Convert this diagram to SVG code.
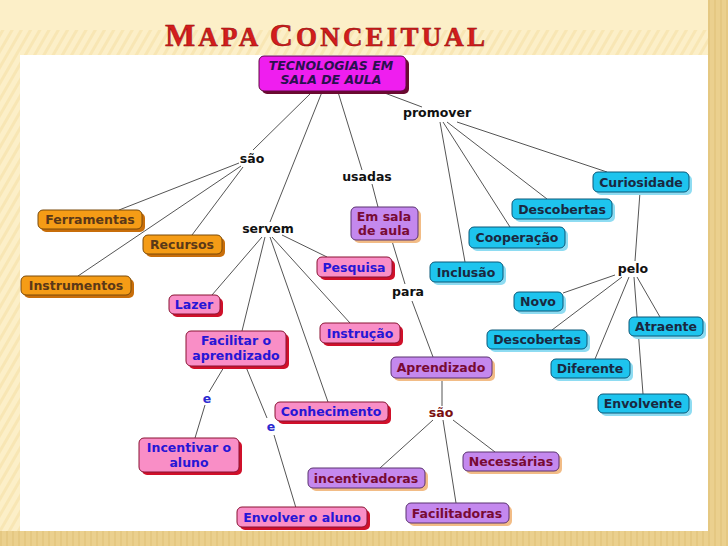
<svg xmlns="http://www.w3.org/2000/svg" width="728" height="546" viewBox="0 0 728 546">
<defs>
<pattern id="stripes" width="8" height="8" patternUnits="userSpaceOnUse" patternTransform="rotate(30)">
<rect width="8" height="8" fill="#fcefc8"/>
<rect width="3" height="8" fill="#f8e6b4"/>
</pattern>
<pattern id="stripes2" width="6" height="6" patternUnits="userSpaceOnUse">
<rect width="6" height="6" fill="#ebd08e"/>
<rect width="2" height="6" fill="#e5c882"/>
</pattern>
</defs>
<style>
.ln{stroke:#555;stroke-width:1;fill:none}
.t{font-family:"DejaVu Sans",Verdana,sans-serif;font-weight:bold;font-size:12.5px;text-anchor:middle}
.lbl{fill:#111}
.sh{stroke:none}
.o .bx{fill:#f59c16;stroke:#7a4a0a;stroke-width:1}
.o .sh{fill:#c86e0a}
.o text{fill:#5a3818}
.p .bx{fill:#f98ec6;stroke:#8a1232;stroke-width:1}
.p .sh{fill:#d0102a}
.p text{fill:#2616d6}
.v .bx{fill:#c488ee;stroke:#5a3270;stroke-width:1}
.v .sh{fill:#f2bc86}
.v text{fill:#780a34}
.b .bx{fill:#1ec4ee;stroke:#0a5878;stroke-width:1}
.b .sh{fill:#8edcf2}
.b text{fill:#1a2840}
.m .bx{fill:#ef1eef;stroke:#600a40;stroke-width:1}
.m .sh{fill:#6a0a30}
.m text{fill:#2a1050;font-style:italic;font-size:12.5px}
</style>
<rect width="728" height="546" fill="#fcefc8"/>
<rect x="0" y="30" width="728" height="25" fill="url(#stripes)"/>
<rect x="0" y="30" width="20" height="516" fill="url(#stripes)"/>
<rect x="708" y="0" width="20" height="546" fill="url(#stripes2)"/>
<rect x="0" y="531" width="728" height="15" fill="url(#stripes2)"/>
<rect x="20" y="55" width="688" height="476" fill="#ffffff"/>
<text x="165" y="46" textLength="320" lengthAdjust="spacing" font-family="'Liberation Serif',serif" font-weight="bold" fill="#d41c1c" stroke="#8a0a0a" stroke-width="0.5"><tspan font-size="32">M</tspan><tspan font-size="27">APA </tspan><tspan font-size="32">C</tspan><tspan font-size="27">ONCEITUAL</tspan></text>
<g id="connectors">
<path class="ln" d="M312,92 L253,150"/>
<path class="ln" d="M322,92 L270,222"/>
<path class="ln" d="M338,92 L362,170"/>
<path class="ln" d="M382,92 L422,107"/>
<path class="ln" d="M239,163 L119,210"/>
<path class="ln" d="M241,166 L78,276"/>
<path class="ln" d="M243,167 L192,235"/>
<path class="ln" d="M262,237 L212,295"/>
<path class="ln" d="M265,237 L242,331"/>
<path class="ln" d="M270,237 L328,402"/>
<path class="ln" d="M272,237 L350,323"/>
<path class="ln" d="M282,235 L327,257"/>
<path class="ln" d="M372,184 L378,207"/>
<path class="ln" d="M392,241 L405,284"/>
<path class="ln" d="M412,301 L433,357"/>
<path class="ln" d="M457,122 L607,172"/>
<path class="ln" d="M447,122 L547,199"/>
<path class="ln" d="M443,122 L510,227"/>
<path class="ln" d="M440,122 L465,262"/>
<path class="ln" d="M640,192 L635,261"/>
<path class="ln" d="M615,275 L563,293"/>
<path class="ln" d="M622,277 L552,330"/>
<path class="ln" d="M629,277 L595,359"/>
<path class="ln" d="M634,277 L643,394"/>
<path class="ln" d="M637,277 L660,317"/>
<path class="ln" d="M224,367 L209,392"/>
<path class="ln" d="M205,405 L195,438"/>
<path class="ln" d="M246,367 L267,418"/>
<path class="ln" d="M274,435 L296,508"/>
<path class="ln" d="M442,378 L442,406"/>
<path class="ln" d="M433,420 L380,468"/>
<path class="ln" d="M443,420 L456,503"/>
<path class="ln" d="M453,420 L495,452"/>
</g>
<g id="labels">
<text class="t lbl" x="252" y="163">são</text>
<text class="t lbl" x="268" y="233">servem</text>
<text class="t lbl" x="367" y="181">usadas</text>
<text class="t lbl" x="437" y="117">promover</text>
<text class="t lbl" x="408" y="296">para</text>
<text class="t lbl" x="633" y="273">pelo</text>
<text class="t" x="441" y="417" fill="#7a1010">são</text>
<text class="t" x="207" y="403" fill="#2a2ad0">e</text>
<text class="t" x="271" y="431" fill="#2a2ad0">e</text>
</g>
<g id="n-top" class="m"><rect class="sh" x="262" y="59" width="147" height="35" rx="5"/><rect class="bx" x="259" y="56" width="147" height="35" rx="5"/><text class="t" x="331" y="70">TECNOLOGIAS EM</text><text class="t" x="331" y="84">SALA DE AULA</text></g>
<g id="n-ferramentas" class="o"><rect class="sh" x="41" y="213" width="104" height="19" rx="5"/><rect class="bx" x="38" y="210" width="104" height="19" rx="5"/><text class="t" x="90" y="224">Ferramentas</text></g>
<g id="n-recursos" class="o"><rect class="sh" x="146" y="238" width="79" height="19" rx="5"/><rect class="bx" x="143" y="235" width="79" height="19" rx="5"/><text class="t" x="182" y="249">Recursos</text></g>
<g id="n-instrumentos" class="o"><rect class="sh" x="24" y="279" width="110" height="19" rx="5"/><rect class="bx" x="21" y="276" width="110" height="19" rx="5"/><text class="t" x="76" y="290">Instrumentos</text></g>
<g id="n-lazer" class="p"><rect class="sh" x="172" y="298" width="51" height="19" rx="5"/><rect class="bx" x="169" y="295" width="51" height="19" rx="5"/><text class="t" x="194" y="309">Lazer</text></g>
<g id="n-facilitar" class="p"><rect class="sh" x="189" y="334" width="100" height="35" rx="5"/><rect class="bx" x="186" y="331" width="100" height="35" rx="5"/><text class="t" x="236" y="345">Facilitar o</text><text class="t" x="236" y="360">aprendizado</text></g>
<g id="n-pesquisa" class="p"><rect class="sh" x="320" y="260" width="75" height="20" rx="5"/><rect class="bx" x="317" y="257" width="75" height="20" rx="5"/><text class="t" x="354" y="272">Pesquisa</text></g>
<g id="n-instrucao" class="p"><rect class="sh" x="323" y="326" width="80" height="20" rx="5"/><rect class="bx" x="320" y="323" width="80" height="20" rx="5"/><text class="t" x="360" y="338">Instrução</text></g>
<g id="n-conhecimento" class="p"><rect class="sh" x="278" y="405" width="113" height="19" rx="5"/><rect class="bx" x="275" y="402" width="113" height="19" rx="5"/><text class="t" x="331" y="416">Conhecimento</text></g>
<g id="n-incentivar" class="p"><rect class="sh" x="142" y="441" width="100" height="34" rx="5"/><rect class="bx" x="139" y="438" width="100" height="34" rx="5"/><text class="t" x="189" y="452">Incentivar o</text><text class="t" x="189" y="467">aluno</text></g>
<g id="n-envolver" class="p"><rect class="sh" x="240" y="510" width="130" height="20" rx="5"/><rect class="bx" x="237" y="507" width="130" height="20" rx="5"/><text class="t" x="302" y="522">Envolver o aluno</text></g>
<g id="n-emsala" class="v"><rect class="sh" x="354" y="210" width="67" height="33" rx="5"/><rect class="bx" x="351" y="207" width="67" height="33" rx="5"/><text class="t" x="384" y="221">Em sala</text><text class="t" x="384" y="235">de aula</text></g>
<g id="n-aprendizado" class="v"><rect class="sh" x="394" y="360" width="101" height="21" rx="5"/><rect class="bx" x="391" y="357" width="101" height="21" rx="5"/><text class="t" x="441" y="372">Aprendizado</text></g>
<g id="n-incentivadoras" class="v"><rect class="sh" x="311" y="471" width="117" height="20" rx="5"/><rect class="bx" x="308" y="468" width="117" height="20" rx="5"/><text class="t" x="366" y="483">incentivadoras</text></g>
<g id="n-necessarias" class="v"><rect class="sh" x="466" y="455" width="96" height="19" rx="5"/><rect class="bx" x="463" y="452" width="96" height="19" rx="5"/><text class="t" x="511" y="466">Necessárias</text></g>
<g id="n-facilitadoras" class="v"><rect class="sh" x="409" y="506" width="103" height="20" rx="5"/><rect class="bx" x="406" y="503" width="103" height="20" rx="5"/><text class="t" x="457" y="518">Facilitadoras</text></g>
<g id="n-curiosidade" class="b"><rect class="sh" x="596" y="175" width="96" height="20" rx="5"/><rect class="bx" x="593" y="172" width="96" height="20" rx="5"/><text class="t" x="641" y="187">Curiosidade</text></g>
<g id="n-descobertas1" class="b"><rect class="sh" x="515" y="202" width="100" height="20" rx="5"/><rect class="bx" x="512" y="199" width="100" height="20" rx="5"/><text class="t" x="562" y="214">Descobertas</text></g>
<g id="n-cooperacao" class="b"><rect class="sh" x="472" y="230" width="96" height="21" rx="5"/><rect class="bx" x="469" y="227" width="96" height="21" rx="5"/><text class="t" x="517" y="242">Cooperação</text></g>
<g id="n-inclusao" class="b"><rect class="sh" x="433" y="265" width="73" height="20" rx="5"/><rect class="bx" x="430" y="262" width="73" height="20" rx="5"/><text class="t" x="466" y="277">Inclusão</text></g>
<g id="n-novo" class="b"><rect class="sh" x="517" y="295" width="49" height="19" rx="5"/><rect class="bx" x="514" y="292" width="49" height="19" rx="5"/><text class="t" x="538" y="306">Novo</text></g>
<g id="n-descobertas2" class="b"><rect class="sh" x="490" y="333" width="100" height="19" rx="5"/><rect class="bx" x="487" y="330" width="100" height="19" rx="5"/><text class="t" x="537" y="344">Descobertas</text></g>
<g id="n-atraente" class="b"><rect class="sh" x="632" y="320" width="74" height="19" rx="5"/><rect class="bx" x="629" y="317" width="74" height="19" rx="5"/><text class="t" x="666" y="331">Atraente</text></g>
<g id="n-diferente" class="b"><rect class="sh" x="554" y="362" width="79" height="19" rx="5"/><rect class="bx" x="551" y="359" width="79" height="19" rx="5"/><text class="t" x="590" y="373">Diferente</text></g>
<g id="n-envolvente" class="b"><rect class="sh" x="601" y="397" width="91" height="19" rx="5"/><rect class="bx" x="598" y="394" width="91" height="19" rx="5"/><text class="t" x="643" y="408">Envolvente</text></g>
</svg>
